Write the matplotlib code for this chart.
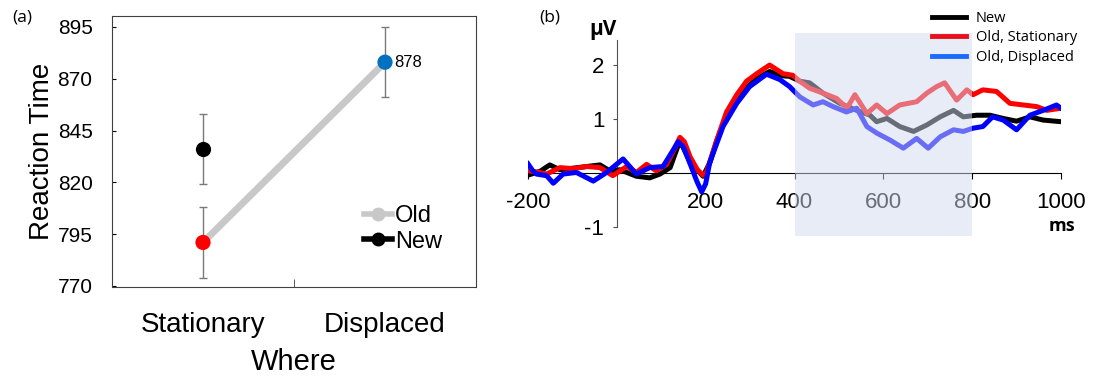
import matplotlib
import matplotlib.pyplot as plt
from matplotlib.lines import Line2D
from matplotlib.patches import Rectangle

matplotlib.use('agg')
plt.rcParams['font.family'] = ['Liberation Sans', 'DejaVu Sans']
plt.rcParams['axes.unicode_minus'] = False

# ---- panel (a): reaction times
where = ['Stationary', 'Displaced']
old_rt = [791, 878]
old_err = [17, 17]
new_rt = [836]
new_err = [17]
rt_ticks = [770, 795, 820, 845, 870, 895]

# ---- panel (b): ERP waveforms (ms, microvolts)
t_new = [-200, -173, -151, -128, -98, -68, -38, -16, 7, 44, 74, 97, 120, 142, 165,
         194, 210, 225, 247, 270, 292, 315, 344, 374, 389, 412, 434, 464, 502, 540,
         570, 585, 608, 637, 668, 698, 728, 758, 780, 810, 840, 870, 900, 930, 960, 1000]
v_new = [-0.04, 0.03, 0.15, 0.06, 0.09, 0.12, 0.15, 0.04, 0.06, -0.06, -0.09, -0.02, 0.1, 0.6, 0.2,
         -0.06, 0.2, 0.6, 1.05, 1.35, 1.58, 1.75, 1.88, 1.8, 1.79, 1.7, 1.67, 1.48, 1.29, 1.16,
         1.07, 0.95, 1.01, 0.86, 0.77, 0.89, 1.04, 1.16, 1.04, 1.07, 1.07, 1.01, 0.96, 1.04, 0.98, 0.95]

t_stat = [-200, -180, -158, -128, -98, -68, -38, -9, 22, 44, 67, 89, 112, 130, 142, 152, 165,
          182, 194, 202, 209, 225, 247, 270, 292, 315, 344, 374, 396, 412, 434, 464, 495, 518,
          536, 563, 585, 608, 637, 675, 698, 720, 738, 765, 788, 802, 824, 855, 885,
          915, 945, 968, 1000]
v_stat = [0.04, 0.02, -0.02, 0.1, 0.08, 0.12, 0.1, -0.05, 0.12, 0.01, 0.16, 0.04, 0.16, 0.45, 0.66, 0.58, 0.3,
          0.05, -0.04, 0.02, 0.2, 0.61, 1.13, 1.45, 1.7, 1.84, 2.0, 1.84, 1.81, 1.7, 1.57, 1.48, 1.38, 1.2,
          1.45, 1.1, 1.26, 1.1, 1.26, 1.32, 1.48, 1.6, 1.67, 1.35, 1.54, 1.45, 1.54, 1.51, 1.29,
          1.26, 1.23, 1.16, 1.2]

t_disp = [-200, -190, -181, -158, -143, -121, -91, -53, -23, 14, 44, 74, 104, 125, 138, 150, 164,
          180, 191, 200, 209, 239, 270, 299, 337, 367, 389, 412, 442, 464, 487, 517, 540, 563,
          585, 615, 645, 675, 701, 728, 758, 780, 802, 824, 846, 870, 900, 930, 960, 990, 1000]
v_disp = [0.17, 0.05, -0.02, -0.05, -0.19, -0.02, 0.01, -0.15, 0.01, 0.26, -0.02, 0.1, 0.12, 0.4, 0.58, 0.48, 0.19,
          -0.15, -0.35, -0.2, 0.19, 0.86, 1.29, 1.6, 1.83, 1.73, 1.6, 1.41, 1.26, 1.32, 1.23, 1.13, 1.2, 0.86,
          0.74, 0.61, 0.46, 0.64, 0.46, 0.67, 0.8, 0.77, 0.83, 0.86, 1.04, 0.98, 0.8, 1.07, 1.16, 1.26, 1.2]

window = (400, 800)

fig = plt.figure(figsize=(10.96, 3.79), dpi=100)

# ================= (a)
ax = fig.add_axes([112 / 1096, 1 - 287 / 379, 364 / 1096, 271 / 379])
xs = [1, 2]
ax.plot(xs, old_rt, color='#c8c8c8', lw=5, solid_capstyle='round', zorder=1)
ax.errorbar(xs, old_rt, yerr=old_err, fmt='none', ecolor='#7a7a7a', elinewidth=1, capsize=3, zorder=2)
ax.errorbar([1], new_rt, yerr=new_err, fmt='none', ecolor='#7a7a7a', elinewidth=1, capsize=3, zorder=2)
ax.scatter(xs, old_rt, s=120, c=['#ff0000', '#0070c0'], zorder=3, linewidths=0)
ax.scatter([1], new_rt, s=120, c='black', zorder=3, linewidths=0)
ax.text(2.05, old_rt[1], str(old_rt[1]), fontsize=12, va='center', ha='left')

ax.set_xlim(0.5, 2.5)
ax.set_ylim(769.5, 900.3)
ax.set_yticks(rt_ticks)
ax.tick_params(axis='y', direction='in', length=3, labelsize=15, pad=14)
ax.set_xticks(xs)
ax.set_xticklabels(where, fontsize=20)
ax.set_xticks([1.5], minor=True)
ax.tick_params(axis='x', which='major', length=0, pad=18)
ax.tick_params(axis='x', which='minor', direction='in', length=6, color='#404040')
for s in ax.spines.values():
    s.set_color('#404040')
ax.set_ylabel('Reaction Time', fontsize=20, labelpad=2)
ax.set_xlabel('Where', fontsize=21, labelpad=7)

handles = [Line2D([], [], color='#c8c8c8', lw=4, marker='o', markersize=9),
           Line2D([], [], color='black', lw=4, marker='o', markersize=9)]
ax.legend(handles, ['Old', 'New'], loc='center left', bbox_to_anchor=(0.66, 0.215),
          frameon=False, fontsize=17, handlelength=1.2, handletextpad=0.1,
          labelspacing=0.15, borderpad=0)
fig.text(22 / 1096, 1 - 18 / 379, '(a)', fontsize=12.5, ha='center', va='center',
         family=['Open Sans', 'DejaVu Sans'])

# ================= (b)
ax2 = fig.add_axes([528 / 1096, 1 - 236 / 379, 533 / 1096, 203 / 379])
ax2.plot(t_new, v_new, color='black', lw=3.6, solid_joinstyle='round', zorder=3)
ax2.plot(t_stat, v_stat, color='#ff0000', lw=3.6, solid_joinstyle='round', zorder=3)
ax2.plot(t_disp, v_disp, color='#0000ff', lw=3.6, solid_joinstyle='round', zorder=3)
ax2.set_xlim(-200, 1000)
ax2.set_ylim(-1.167, 2.593)

ax2.spines['top'].set_visible(False)
ax2.spines['right'].set_visible(False)
ax2.spines['left'].set_position(('data', 0))
ax2.spines['left'].set_bounds(-1, 2.46)
ax2.spines['left'].set_color('#505050')
ax2.spines['bottom'].set_position(('data', 0))
ax2.spines['bottom'].set_bounds(-200, 1000)
ax2.set_xticks([-200, 200, 400, 600, 800, 1000])
ax2.set_yticks([-1, 1, 2])
ax2.tick_params(axis='x', direction='out', length=4, labelsize=16, pad=10)
ax2.tick_params(axis='y', direction='out', length=3, labelsize=16, pad=6, color='#505050')

ax2.add_patch(Rectangle((window[0], -1.167), window[1] - window[0], 3.76,
                        facecolor=(211 / 255, 219 / 255, 239 / 255), alpha=0.5,
                        edgecolor='none', zorder=10, clip_on=False))

fig.text(603 / 1096, 1 - 30 / 379, 'μV', fontsize=15, fontweight='bold', ha='center', va='center',
         family=['Open Sans', 'DejaVu Sans'])
fig.text(1062 / 1096, 1 - 226 / 379, 'ms', fontsize=13, fontweight='bold', ha='center', va='center',
         family=['Open Sans', 'DejaVu Sans'])
fig.text(550 / 1096, 1 - 18 / 379, '(b)', fontsize=12.5, ha='center', va='center',
         family=['Open Sans', 'DejaVu Sans'])

h2 = [Line2D([], [], color='black', lw=3.5),
      Line2D([], [], color='#e8101a', lw=3.5),
      Line2D([], [], color='#1a6cff', lw=3.5)]
leg = fig.legend(h2, ['New', 'Old, Stationary', 'Old, Displaced'], loc='upper left',
                 bbox_to_anchor=(932 / 1096, 1 - 11 / 379), frameon=False,
                 prop={'family': ['Open Sans', 'DejaVu Sans'], 'size': 10.5},
                 handlelength=2.3, handletextpad=0.7, labelspacing=0.3, borderpad=0,
                 borderaxespad=0)
leg.set_zorder(20)

fig.savefig('out.png', dpi=100)
